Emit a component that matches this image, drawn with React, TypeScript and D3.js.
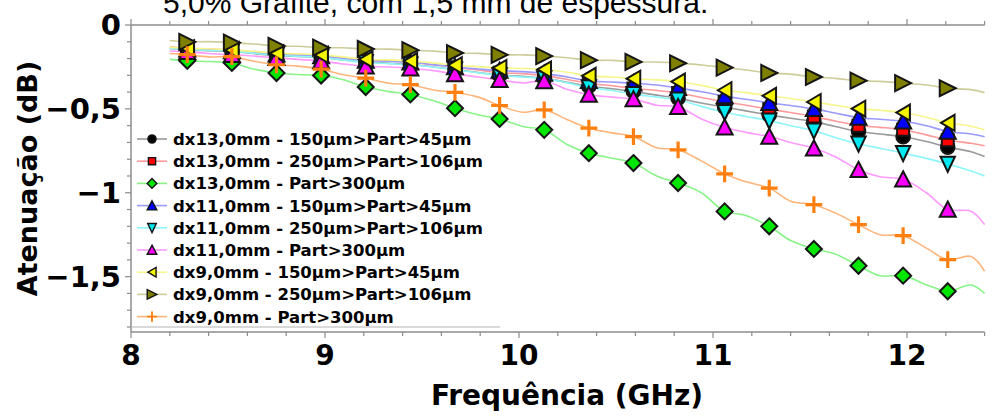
import React from "react";
import * as d3 from "d3";

// Frequency grid of the traces (GHz); markers sit on the odd indices
const freq = [
  8.2, 8.29, 8.4, 8.52, 8.63, 8.75, 8.86, 8.98, 9.09, 9.21, 9.33, 9.44, 9.56,
  9.67, 9.79, 9.9, 10.02, 10.13, 10.25, 10.36, 10.48, 10.59, 10.71, 10.82,
  10.94, 11.06, 11.17, 11.29, 11.4, 11.52, 11.63, 11.75, 11.86, 11.98, 12.1,
  12.21, 12.33, 12.4,
];

// Attenuation (dB) per sample
const dx13_150 = [
  -0.14, -0.148, -0.153, -0.158, -0.17, -0.182, -0.187, -0.192, -0.208, -0.22,
  -0.228, -0.234, -0.25, -0.265, -0.283, -0.298, -0.306, -0.318, -0.342, -0.365,
  -0.38, -0.397, -0.418, -0.437, -0.465, -0.49, -0.512, -0.536, -0.556, -0.576,
  -0.605, -0.635, -0.65, -0.666, -0.695, -0.728, -0.755, -0.784,
];
const dx13_250 = [
  -0.13, -0.14, -0.143, -0.15, -0.16, -0.172, -0.176, -0.182, -0.196, -0.21,
  -0.215, -0.222, -0.237, -0.252, -0.268, -0.285, -0.29, -0.302, -0.325, -0.348,
  -0.362, -0.379, -0.39, -0.405, -0.432, -0.458, -0.478, -0.502, -0.522, -0.546,
  -0.572, -0.6, -0.61, -0.624, -0.655, -0.687, -0.705, -0.72,
];
const dx13_300 = [
  -0.205, -0.213, -0.218, -0.226, -0.262, -0.286, -0.295, -0.301, -0.325, -0.37,
  -0.397, -0.414, -0.452, -0.496, -0.535, -0.56, -0.605, -0.625, -0.714, -0.764,
  -0.794, -0.823, -0.9, -0.942, -1.0, -1.111, -1.135, -1.2, -1.285, -1.335,
  -1.365, -1.435, -1.495, -1.494, -1.548, -1.587, -1.55, -1.6,
];
const dx11_150 = [
  -0.135, -0.145, -0.148, -0.155, -0.165, -0.175, -0.178, -0.185, -0.198, -0.212,
  -0.216, -0.222, -0.236, -0.25, -0.262, -0.272, -0.278, -0.29, -0.31, -0.333,
  -0.34, -0.347, -0.358, -0.375, -0.398, -0.424, -0.443, -0.464, -0.48, -0.5,
  -0.525, -0.552, -0.562, -0.574, -0.6, -0.635, -0.65, -0.666,
];
const dx11_250 = [
  -0.14, -0.145, -0.152, -0.156, -0.168, -0.18, -0.186, -0.192, -0.208, -0.222,
  -0.23, -0.237, -0.25, -0.266, -0.285, -0.3, -0.31, -0.318, -0.345, -0.372,
  -0.39, -0.412, -0.43, -0.446, -0.485, -0.52, -0.545, -0.57, -0.6, -0.63,
  -0.67, -0.708, -0.735, -0.764, -0.795, -0.828, -0.87, -0.9,
];
const dx11_300 = [
  -0.155, -0.16, -0.17, -0.177, -0.185, -0.196, -0.205, -0.215, -0.232, -0.246,
  -0.25, -0.258, -0.272, -0.292, -0.31, -0.327, -0.345, -0.334, -0.385, -0.415,
  -0.43, -0.442, -0.478, -0.488, -0.56, -0.61, -0.64, -0.665, -0.7, -0.735,
  -0.785, -0.863, -0.905, -0.92, -1.0, -1.1, -1.11, -1.19,
];
const dx9_150 = [
  -0.132, -0.139, -0.142, -0.149, -0.157, -0.168, -0.172, -0.178, -0.19, -0.205,
  -0.208, -0.215, -0.226, -0.24, -0.248, -0.256, -0.259, -0.265, -0.282, -0.303,
  -0.31, -0.32, -0.327, -0.337, -0.36, -0.389, -0.403, -0.422, -0.438, -0.459,
  -0.478, -0.499, -0.508, -0.522, -0.55, -0.583, -0.603, -0.625,
];
const dx9_250 = [
  -0.092, -0.1, -0.099, -0.105, -0.113, -0.125, -0.127, -0.135, -0.136, -0.143,
  -0.144, -0.15, -0.156, -0.167, -0.169, -0.178, -0.178, -0.185, -0.195, -0.21,
  -0.211, -0.22, -0.221, -0.228, -0.238, -0.254, -0.268, -0.286, -0.293, -0.31,
  -0.318, -0.332, -0.336, -0.346, -0.358, -0.377, -0.385, -0.403,
];
const dx9_300 = [
  -0.17, -0.177, -0.19, -0.189, -0.215, -0.237, -0.245, -0.263, -0.295, -0.317,
  -0.347, -0.356, -0.387, -0.402, -0.43, -0.48, -0.52, -0.506, -0.565, -0.615,
  -0.643, -0.665, -0.732, -0.744, -0.81, -0.887, -0.935, -0.972, -1.05, -1.071,
  -1.12, -1.19, -1.25, -1.256, -1.33, -1.399, -1.38, -1.468,
];

const seriesNames = [
  "dx13,0mm - 150µm>Part>45µm",
  "dx13,0mm - 250µm>Part>106µm",
  "dx13,0mm - Part>300µm",
  "dx11,0mm - 150µm>Part>45µm",
  "dx11,0mm - 250µm>Part>106µm",
  "dx11,0mm - Part>300µm",
  "dx9,0mm - 150µm>Part>45µm",
  "dx9,0mm - 250µm>Part>106µm",
  "dx9,0mm - Part>300µm",
];
const seriesValues = [
  dx13_150, dx13_250, dx13_300, dx11_150, dx11_250, dx11_300, dx9_150, dx9_250, dx9_300,
];

const xMajorTicks = [8, 9, 10, 11, 12];
const yMajorTicks = [0, -0.5, -1, -1.5];

const title = "5,0% Grafite, com 1,5 mm de espessura.";
const xTitle = "Frequência (GHz)";
const yTitle = "Atenuação (dB)";

type Shape = "circle" | "square" | "diamond" | "up" | "down" | "left" | "right" | "plus";
const styles: { shape: Shape; fill: string; line: string }[] = [
  { shape: "circle", fill: "#000000", line: "#9a9a9a" },
  { shape: "square", fill: "#ff0000", line: "#ff9a9a" },
  { shape: "diamond", fill: "#00e600", line: "#88f488" },
  { shape: "up", fill: "#0000ff", line: "#9a9aff" },
  { shape: "down", fill: "#00e8f0", line: "#8cf6fa" },
  { shape: "up", fill: "#ff00ff", line: "#ff9aff" },
  { shape: "left", fill: "#f5f500", line: "#f6f68a" },
  { shape: "right", fill: "#808000", line: "#cdcd9c" },
  { shape: "plus", fill: "#ff8010", line: "#ffb47a" },
];

function markerPath(shape: Shape, s: number): string {
  switch (shape) {
    case "circle":
      return `M${s * 0.85},0A${s * 0.85},${s * 0.85} 0 1,1 ${-s * 0.85},0A${s * 0.85},${s * 0.85} 0 1,1 ${s * 0.85},0Z`;
    case "square":
      return `M${-s * 0.75},${-s * 0.75}H${s * 0.75}V${s * 0.75}H${-s * 0.75}Z`;
    case "diamond":
      return `M0,${-s}L${s},0L0,${s}L${-s},0Z`;
    case "up":
      return `M0,${-s}L${s},${s * 0.9}L${-s},${s * 0.9}Z`;
    case "down":
      return `M0,${s}L${s * 0.9},${-s * 0.9}L${-s * 0.9},${-s * 0.9}Z`;
    case "left":
      return `M${-s * 0.85},0L${s * 0.85},${-s}L${s * 0.85},${s}Z`;
    case "right":
      return `M${s},0L${-s},${-s}L${-s},${s}Z`;
    case "plus":
      return `M${-s},0H${s}M0,${-s}V${s}`;
  }
}

function Marker({ shape, fill, cx, cy, s, sw }: { shape: Shape; fill: string; cx: number; cy: number; s: number; sw: number }) {
  if (shape === "plus") {
    return (
      <path
        d={markerPath(shape, s * 1.05)}
        transform={`translate(${cx},${cy})`}
        stroke={fill}
        strokeWidth={s * 0.4}
        fill="none"
      />
    );
  }
  return (
    <path
      d={markerPath(shape, s)}
      transform={`translate(${cx},${cy})`}
      fill={fill}
      stroke="#151515"
      strokeWidth={sw}
      strokeLinejoin="miter"
    />
  );
}

export default function App() {
  const width = 1001;
  const height = 416;
  const left = 131;
  const top = 25;
  const bottom = 332;

  const x = d3.scaleLinear().domain([8, 12.4]).range([left, 984.6]);
  const y = d3.scaleLinear().domain([0, -1.83]).range([top, bottom]);
  const right = x(12.4);

  const locale = d3.formatLocale({
    decimal: ",",
    thousands: ".",
    grouping: [3],
    currency: ["", ""],
    minus: "\u2212",
  });
  const fmt = locale.format("~g");

  const xMinor = d3.range(0, 23).map((i) => 8 + i * 0.2);
  const yMinor = d3.range(0, 19).map((i) => -i * 0.1);

  const line = d3
    .line<number>()
    .x((_, i) => x(freq[i]))
    .y((v) => y(v))
    .curve(d3.curveCatmullRom.alpha(0.5));

  const axisColor = "#8c8c8c";
  const boldFont = "'DejaVu Sans', Verdana, sans-serif";

  const legendX = 152;
  const legendY0 = 139;
  const legendStep = 22.2;

  return (
    <svg
      width={width}
      height={height}
      style={{ position: "absolute", left: 0, top: 0, background: "#fff" }}
    >
      <rect width={width} height={height} fill="#fff" />

      <text
        x={163}
        y={13}
        fontFamily="'Liberation Sans', Arial, sans-serif"
        fontSize={30}
        fill="#000"
      >
        {title}
      </text>

      {/* frame */}
      <line x1={left} x2={right} y1={top} y2={top} stroke={axisColor} strokeWidth={1.5} />
      <line x1={left} x2={right} y1={bottom} y2={bottom} stroke={axisColor} strokeWidth={1.5} />
      <line x1={left} x2={left} y1={top} y2={bottom} stroke={axisColor} strokeWidth={1.5} />

      {/* x ticks, top and bottom */}
      {xMinor.map((f, i) => {
        const major = xMajorTicks.some((m) => Math.abs(m - f) < 1e-6);
        const len = major ? 6 : 4;
        return (
          <g key={`xt${i}`} stroke={axisColor} strokeWidth={1.2}>
            <line x1={x(f)} x2={x(f)} y1={top} y2={top - len} />
            <line x1={x(f)} x2={x(f)} y1={bottom} y2={bottom + len} />
          </g>
        );
      })}
      {/* y ticks */}
      {yMinor.map((v, i) => {
        const major = yMajorTicks.some((m) => Math.abs(m - v) < 1e-6);
        const len = major ? 6 : 4;
        return (
          <line
            key={`yt${i}`}
            x1={left}
            x2={left - len}
            y1={y(v)}
            y2={y(v)}
            stroke={axisColor}
            strokeWidth={1.2}
          />
        );
      })}

      {/* tick labels */}
      {xMajorTicks.map((f) => (
        <text
          key={`xl${f}`}
          x={x(f)}
          y={365}
          textAnchor="middle"
          fontFamily={boldFont}
          fontWeight="bold"
          fontSize={28}
          fill="#000"
        >
          {fmt(f)}
        </text>
      ))}
      {yMajorTicks.map((v) => (
        <text
          key={`yl${v}`}
          x={121}
          y={y(v)}
          dy="0.36em"
          textAnchor="end"
          fontFamily={boldFont}
          fontWeight="bold"
          fontSize={29}
          fill="#000"
        >
          {fmt(v)}
        </text>
      ))}

      {/* axis titles */}
      <text
        x={567}
        y={405}
        textAnchor="middle"
        fontFamily={boldFont}
        fontWeight="bold"
        fontSize={28}
        fill="#000"
      >
        {xTitle}
      </text>
      <text
        transform={`translate(37,${(top + bottom) / 2}) rotate(-90)`}
        textAnchor="middle"
        fontFamily={boldFont}
        fontWeight="bold"
        fontSize={27}
        fill="#000"
      >
        {yTitle}
      </text>

      {/* traces */}
      {seriesValues.map((vals, si) => (
        <path
          key={`ln${si}`}
          d={line(vals) || ""}
          fill="none"
          stroke={styles[si].line}
          strokeWidth={1.6}
        />
      ))}

      {/* markers on every other sample */}
      {seriesValues.map((vals, si) => (
        <g key={`mk${si}`}>
          {vals.map((v, i) =>
            i % 2 === 1 && i < 36 ? (
              <Marker
                key={i}
                shape={styles[si].shape}
                fill={styles[si].fill}
                cx={x(freq[i])}
                cy={y(v)}
                s={8}
                sw={2}
              />
            ) : null
          )}
        </g>
      ))}

      {/* legend */}
      <line x1={left} x2={500} y1={327} y2={327} stroke="#b4b4b4" strokeWidth={1.2} />
      {seriesNames.map((name, i) => {
        const ly = legendY0 + i * legendStep;
        return (
          <g key={`lg${i}`}>
            <line
              x1={legendX - 15}
              x2={legendX + 15}
              y1={ly}
              y2={ly}
              stroke={styles[i].line}
              strokeWidth={1.6}
            />
            <Marker shape={styles[i].shape} fill={styles[i].fill} cx={legendX} cy={ly} s={4.8} sw={1.4} />
            <text
              x={173}
              y={ly}
              dy="0.36em"
              fontFamily={boldFont}
              fontWeight="bold"
              fontSize={16.5}
              fill="#000"
            >
              {name}
            </text>
          </g>
        );
      })}
    </svg>
  );
}
